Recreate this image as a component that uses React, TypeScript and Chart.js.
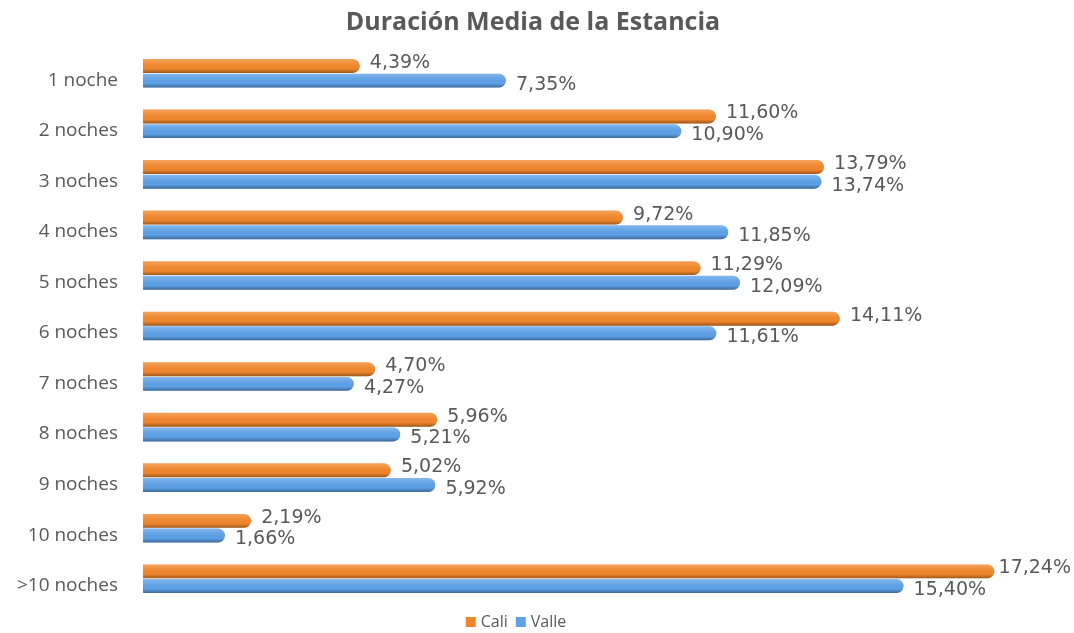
import React, { useEffect, useRef } from "react";
import { Chart, registerables } from "chart.js";

Chart.register(...registerables);

const categories = [
  "1 noche", "2 noches", "3 noches", "4 noches", "5 noches", "6 noches",
  "7 noches", "8 noches", "9 noches", "10 noches", ">10 noches",
];
const caliValues = [4.39, 11.6, 13.79, 9.72, 11.29, 14.11, 4.7, 5.96, 5.02, 2.19, 17.24];
const valleValues = [7.35, 10.9, 13.74, 11.85, 12.09, 11.61, 4.27, 5.21, 5.92, 1.66, 15.4];
const seriesNames = ["Cali", "Valle"];
const chartTitle = "Duración Media de la Estancia";

const ORANGE = "#F0862C";
const BLUE = "#5DA0E6";
const TEXT = "#595959";

const fmt = (v: number) => v.toFixed(2).replace(".", ",") + "%";

const cylinderPlugin = {
  id: "cylinder",
  afterDatasetsDraw(chart: any) {
    const ctx = chart.ctx;
    chart.data.datasets.forEach((ds: any, di: number) => {
      const meta = chart.getDatasetMeta(di);
      meta.data.forEach((bar: any) => {
        const { x, y, base, height } = bar.getProps(["x", "y", "base", "height"], true);
        const top = y - height / 2;
        const g = ctx.createLinearGradient(0, top, 0, top + height);
        g.addColorStop(0, "rgba(255,255,255,0.25)");
        g.addColorStop(0.35, "rgba(255,255,255,0.05)");
        g.addColorStop(0.7, "rgba(0,0,0,0.0)");
        g.addColorStop(1, "rgba(0,0,0,0.35)");
        ctx.save();
        ctx.beginPath();
        const r = Math.min(height / 2, x - base);
        (ctx as any).roundRect(base, top, x - base, height, [1, r, r, 1]);
        ctx.fillStyle = g;
        ctx.fill();
        ctx.restore();
      });
    });
  },
};

const labelPlugin = {
  id: "valueLabels",
  afterDatasetsDraw(chart: any) {
    const ctx = chart.ctx;
    ctx.save();
    ctx.font = "19px 'DejaVu Sans', sans-serif";
    ctx.fillStyle = TEXT;
    ctx.textAlign = "left";
    ctx.textBaseline = "middle";
    chart.data.datasets.forEach((ds: any, di: number) => {
      const meta = chart.getDatasetMeta(di);
      meta.data.forEach((bar: any, i: number) => {
        const dy = di === 0 ? -3 : 4;
        const txt = fmt(ds.data[i]);
        const w = ctx.measureText(txt).width;
        const x = Math.min(bar.x + 10, chart.width - w - 3);
        ctx.fillText(txt, x, bar.y + dy);
      });
    });
    ctx.restore();
  },
};

// Title and legend drawn as text on the canvas
const decorPlugin = {
  id: "decor",
  afterDraw(chart: any) {
    const ctx = chart.ctx;
    ctx.save();
    ctx.fillStyle = TEXT;
    ctx.textBaseline = "middle";
    ctx.textAlign = "center";
    ctx.font = "bold 25px 'Open Sans', sans-serif";
    ctx.fillText(chartTitle, 533, 23);

    ctx.font = "16px 'Open Sans', sans-serif";
    ctx.textAlign = "left";
    const box = 10;
    const gapBox = 5;
    const gapItem = 8;
    const widths = chart.data.datasets.map((d: any) => box + gapBox + ctx.measureText(d.label).width);
    const total = widths.reduce((a: number, b: number) => a + b, 0) + gapItem * (widths.length - 1);
    let x = 516 - total / 2;
    const y = 622;
    chart.data.datasets.forEach((d: any, i: number) => {
      ctx.fillStyle = d.backgroundColor;
      ctx.fillRect(x, y - box / 2, box, box);
      ctx.fillStyle = TEXT;
      ctx.fillText(d.label, x + box + gapBox, y);
      x += widths[i] + gapItem;
    });
    ctx.restore();
  },
};

export default function App() {
  const ref = useRef<HTMLCanvasElement | null>(null);
  useEffect(() => {
    if (!ref.current) return;
    const chart = new Chart(ref.current, {
      type: "bar",
      data: {
        labels: categories,
        datasets: [
          {
            label: seriesNames[0],
            data: caliValues,
            backgroundColor: ORANGE,
            borderRadius: 7,
            borderSkipped: "start",
            categoryPercentage: 0.58,
            barPercentage: 0.95,
          },
          {
            label: seriesNames[1],
            data: valleValues,
            backgroundColor: BLUE,
            borderRadius: 7,
            borderSkipped: "start",
            categoryPercentage: 0.58,
            barPercentage: 0.95,
          },
        ],
      },
      options: {
        indexAxis: "y",
        animation: false,
        responsive: false,
        maintainAspectRatio: false,
        layout: { padding: { left: 0, right: 42, top: 48, bottom: 29 } },
        scales: {
          x: { display: false, min: 0, max: 18 },
          y: {
            grid: { display: false, drawTicks: false },
            border: { display: false },
            ticks: {
              color: TEXT,
              font: { family: "'Open Sans', sans-serif", size: 19 },
              padding: 25,
              labelOffset: 7,
            },
            afterFit(scale: any) {
              scale.width = 143;
              scale.paddingTop = 0;
              scale.paddingBottom = 0;
            },
          },
        },
        plugins: {
          title: { display: false },
          legend: { display: false },
          tooltip: { enabled: false },
        },
      },
      plugins: [cylinderPlugin, labelPlugin, decorPlugin],
    });
    return () => chart.destroy();
  }, []);
  return (
    <div style={{ position: "fixed", left: 0, top: 0, width: 1074, height: 633, background: "#fff" }}>
      <canvas ref={ref} width={1074} height={633} style={{ width: 1074, height: 633 }} />
    </div>
  );
}
